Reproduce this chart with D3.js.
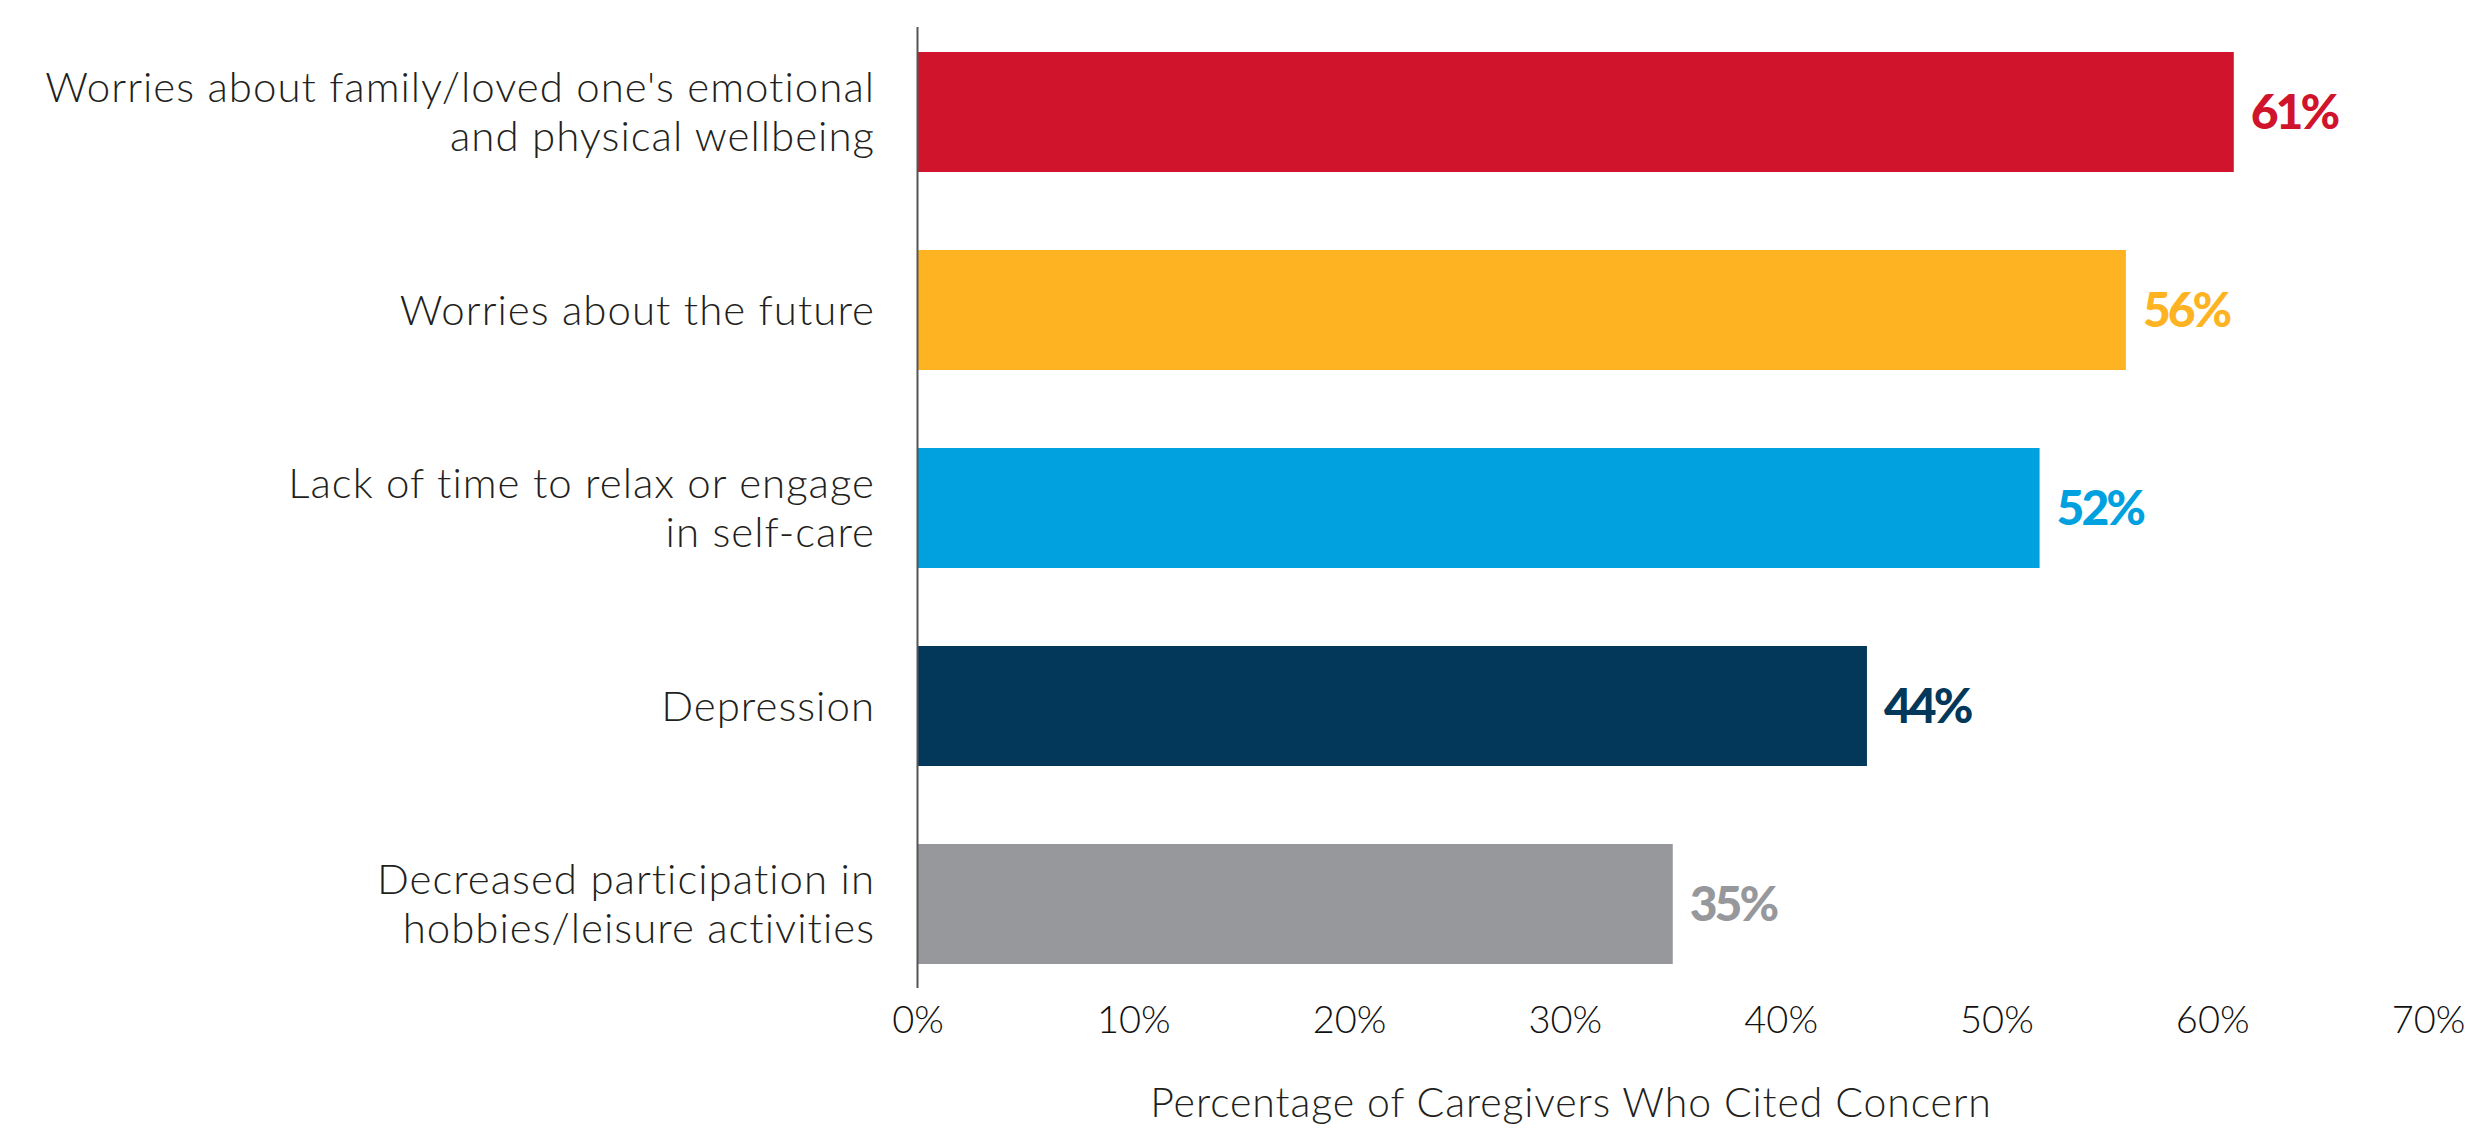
<!DOCTYPE html>
<html>
<head>
<meta charset="utf-8">
<script src="https://cdn.jsdelivr.net/npm/d3@7"></script>
<style>
  html, body { margin: 0; padding: 0; background: #ffffff; }
  svg { display: block; }
  .cat-label { font-family: Lato, "Open Sans", sans-serif; font-weight: 300; font-size: 42px; letter-spacing: 1px; fill: #231f20; }
  .tick text { font-family: Lato, "Open Sans", sans-serif; font-weight: 300; font-size: 38px; fill: #111111; }
  .axis-title { font-family: Lato, "Open Sans", sans-serif; font-weight: 300; font-size: 41px; letter-spacing: 0.9px; fill: #231f20; }
  .value-label { font-family: Lato, sans-serif; font-weight: 900; font-size: 48px; letter-spacing: -3px; }
</style>
</head>
<body>
<svg id="chart" width="2468" height="1131"></svg>
<script>
// Concerns cited by caregivers, top to bottom
const categories = [
  "Worries about family/loved one's emotional and physical wellbeing",
  "Worries about the future",
  "Lack of time to relax or engage in self-care",
  "Depression",
  "Decreased participation in hobbies/leisure activities"
];
// Wrapped label lines for each category
const categoryLines = [
  ["Worries about family/loved one's emotional", "and physical wellbeing"],
  ["Worries about the future"],
  ["Lack of time to relax or engage", "in self-care"],
  ["Depression"],
  ["Decreased participation in", "hobbies/leisure activities"]
];
// Percentage of caregivers citing each concern
const values = [61, 56, 52, 44, 35];
const barColors = ["#cf142b", "#feb323", "#00a1de", "#03385a", "#97989c"];
const xTicks = [0, 10, 20, 30, 40, 50, 60, 70];
const xTitle = "Percentage of Caregivers Who Cited Concern";

const svg = d3.select("#chart");

const x = d3.scaleLinear().domain([0, 70]).range([917.5, 2428]);
const y = d3.scaleBand()
  .domain(categories)
  .range([13, 1003])
  .paddingInner(0.394)
  .paddingOuter(0.197);

// Bars
svg.append("g").selectAll("rect")
  .data(categories)
  .join("rect")
  .attr("x", x(0))
  .attr("y", d => y(d))
  .attr("width", (d, i) => x(values[i]) - x(0))
  .attr("height", y.bandwidth())
  .attr("fill", (d, i) => barColors[i]);

// Vertical baseline at 0%
const firstTop = y(categories[0]);
const lastBottom = y(categories[categories.length - 1]) + y.bandwidth();
svg.append("line")
  .attr("x1", x(0)).attr("x2", x(0))
  .attr("y1", firstTop - 25).attr("y2", lastBottom + 24)
  .attr("stroke", "#555555")
  .attr("stroke-width", 2);

// Value labels at bar ends
svg.append("g").selectAll("text")
  .data(categories)
  .join("text")
  .attr("class", "value-label")
  .attr("x", (d, i) => x(values[i]) + 17)
  .attr("y", d => y(d) + y.bandwidth() / 2)
  .attr("dy", "0.35em")
  .attr("fill", (d, i) => barColors[i])
  .text((d, i) => values[i] + "%");

// Category labels, right-aligned left of the baseline
const lineHeight = 49;
const catGroup = svg.append("g");
categories.forEach((c, i) => {
  const lines = categoryLines[i];
  const cy = y(c) + y.bandwidth() / 2;
  const t = catGroup.append("text")
    .attr("class", "cat-label")
    .attr("text-anchor", "end")
    .attr("x", 875)
    .attr("y", cy - (lines.length - 1) * lineHeight / 2);
  lines.forEach((ln, j) => {
    t.append("tspan")
      .attr("x", 875)
      .attr("dy", j === 0 ? "0.35em" : lineHeight)
      .text(ln);
  });
});

// Bottom axis (labels only)
const xAxis = d3.axisBottom(x)
  .tickValues(xTicks)
  .tickFormat(d => d + "%")
  .tickSize(0)
  .tickPadding(16);
const axisG = svg.append("g")
  .attr("transform", "translate(0,990)")
  .call(xAxis);
axisG.select(".domain").remove();

// Axis title
svg.append("text")
  .attr("class", "axis-title")
  .attr("text-anchor", "middle")
  .attr("x", 1571)
  .attr("y", 1117)
  .text(xTitle);
</script>
</body>
</html>
